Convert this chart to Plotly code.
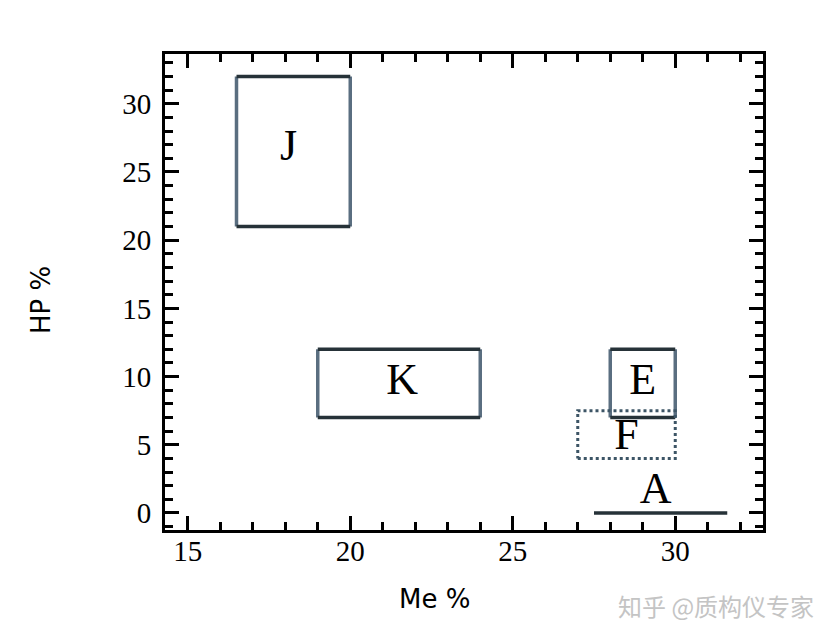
import plotly.graph_objects as go

# Data
names = ["J", "K", "E", "F", "A"]
x0 = [16.5, 19.0, 28.0, 27.0, 27.5]
x1 = [20.0, 24.0, 30.0, 30.0, 31.6]
y0 = [21.0, 7.0, 7.0, 4.0, 0.0]
y1 = [32.0, 12.0, 12.0, 7.5, 0.0]
styles = ["solid", "solid", "solid", "dot", "solid"]
label_x = [18.1, 21.6, 29.0, 28.5, 29.4]
label_y = [26.7, 9.5, 9.5, 5.5, 1.5]

x_ticks = [15, 20, 25, 30]
y_ticks = [0, 5, 10, 15, 20, 25, 30]

dark = "#263238"
side = "#5a6e80"
dotc = "#3d5566"

fig = go.Figure()
for i, n in enumerate(names):
    if styles[i] == "dot":
        fig.add_trace(go.Scatter(
            x=[x0[i], x1[i], x1[i], x0[i], x0[i]],
            y=[y0[i], y0[i], y1[i], y1[i], y0[i]],
            mode="lines", line=dict(color=dotc, width=3, dash="dot"),
            showlegend=False, hoverinfo="skip"))
        continue
    if y0[i] == y1[i]:
        fig.add_trace(go.Scatter(
            x=[x0[i], x1[i]], y=[y0[i], y1[i]], mode="lines",
            line=dict(color=dark, width=3.5), showlegend=False, hoverinfo="skip"))
        continue
    fig.add_trace(go.Scatter(
        x=[x0[i], x0[i], None, x1[i], x1[i]],
        y=[y0[i], y1[i], None, y0[i], y1[i]],
        mode="lines", line=dict(color=side, width=3.5),
        showlegend=False, hoverinfo="skip"))
    fig.add_trace(go.Scatter(
        x=[x0[i], x1[i], None, x0[i], x1[i]],
        y=[y0[i], y0[i], None, y1[i], y1[i]],
        mode="lines", line=dict(color=dark, width=3.5),
        showlegend=False, hoverinfo="skip"))

fig.add_trace(go.Scatter(
    x=label_x, y=label_y, mode="text", text=names,
    textfont=dict(family="Liberation Serif", size=44, color="black"),
    showlegend=False, hoverinfo="skip"))

axis_common = dict(
    showline=True, linecolor="black", linewidth=3, mirror="allticks",
    ticks="inside", ticklen=14, tickwidth=3, tickcolor="black",
    showgrid=False, zeroline=False,
    tickfont=dict(family="Liberation Serif", size=29, color="black"),
)
minor = dict(ticks="inside", dtick=1, ticklen=8, tickwidth=3,
             tickcolor="black", showgrid=False)

fig.update_xaxes(range=[14.3, 32.7], tickvals=x_ticks, minor=minor,
                 ticklabelstandoff=-7, **axis_common)
fig.update_yaxes(range=[-1.25, 33.65], tickvals=y_ticks, minor=minor,
                 ticklabelstandoff=5, **axis_common)

OFF = 7  # page offset of the figure
L, R, T, B = 157, 83, 46, 118
W, H = 838, 640
pw, ph = W - L - R, H - T - B

def px(xp, yp):
    return (xp - OFF - L) / pw, (H - B - (yp - OFF)) / ph

ann = [
    ("Me %", 433, 598, 0, "DejaVu Sans", 26, "black"),
    ("HP %", 40, 299, -90, "DejaVu Sans", 26, "black"),
    ("知乎 @质构仪专家", 715, 604, 0, "Noto Sans CJK SC", 24, "#c4c4c4"),
]
for t, xp, yp, ang, fam, sz, col in ann:
    ax, ay = px(xp, yp)
    fig.add_annotation(text=t, x=ax, y=ay, xref="paper", yref="paper",
                       showarrow=False, textangle=ang, xanchor="center", yanchor="middle",
                       font=dict(family=fam, size=sz, color=col))

fig.update_layout(
    width=W, height=H,
    margin=dict(l=L, r=R, t=T, b=B),
    plot_bgcolor="white", paper_bgcolor="white",
)

fig.write_html("out.html")
